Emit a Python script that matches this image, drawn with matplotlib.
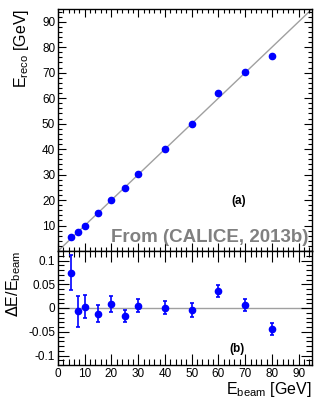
import matplotlib
matplotlib.use("Agg")
import matplotlib.pyplot as plt
from matplotlib.ticker import MultipleLocator, FuncFormatter

plt.rcParams['font.family'] = ['Liberation Sans', 'DejaVu Sans']

e_beam = [5, 7.5, 10, 15, 20, 25, 30, 40, 50, 60, 70, 80]
e_reco = [5.37, 7.45, 10.0, 14.8, 20.2, 24.6, 30.1, 40.0, 49.8, 62.1, 70.4, 76.5]
resid = [0.074, -0.007, 0.003, -0.012, 0.0085, -0.017, 0.005, 0.001, -0.004, 0.036, 0.006, -0.044]
resid_err = [0.037, 0.032, 0.024, 0.018, 0.016, 0.013, 0.013, 0.014, 0.014, 0.012, 0.012, 0.012]

W, H = 332, 399
fig = plt.figure(figsize=(W/100, H/100), dpi=100)

def rect(x0, y0, x1, y1):
    return [x0/W, 1 - y1/H, (x1-x0)/W, (y1-y0)/H]

ax1 = fig.add_axes(rect(58, 9, 312, 251))
ax2 = fig.add_axes(rect(58, 251, 312, 365))

blue = (0, 0, 1)
gray = '#a0a0a0'

ax1.plot([0, 95], [0, 95], color=gray, lw=1.0, zorder=1)
ax1.plot(e_beam, e_reco, 'o', color=blue, ms=4.5, zorder=3)
ax1.set_xlim(0, 95)
ax1.set_ylim(0, 95)

ax2.axhline(0, color=gray, lw=1.0, zorder=1)
ax2.errorbar(e_beam, resid, yerr=resid_err, fmt='o', color=blue, ms=4.5,
             elinewidth=1.2, capsize=1.5, capthick=1.2, zorder=3)
ax2.set_xlim(0, 95)
ax2.set_ylim(-0.12, 0.12)

for ax in (ax1, ax2):
    ax.xaxis.set_major_locator(MultipleLocator(10))
    ax.xaxis.set_minor_locator(MultipleLocator(2))
    ax.tick_params(which='both', direction='in', top=True, right=True,
                   labelsize=8.5, width=0.8, pad=2)
    ax.tick_params(which='major', length=6)
    ax.tick_params(which='minor', length=3)
    for s in ax.spines.values():
        s.set_linewidth(1.0)

ax1.yaxis.set_major_locator(MultipleLocator(10))
ax1.yaxis.set_minor_locator(MultipleLocator(2))
ax1.yaxis.set_major_formatter(FuncFormatter(lambda v, p: '' if abs(v) < 1e-9 else f'{v:.0f}'))
ax1.tick_params(labelbottom=False)
ax2.yaxis.set_major_locator(MultipleLocator(0.05))
ax2.yaxis.set_minor_locator(MultipleLocator(0.01))
ax2.set_yticks([-0.1, -0.05, 0, 0.05, 0.1])
ax2.set_yticklabels(['-0.1', '-0.05', '0', '0.05', '0.1'])
ax2.tick_params(which='major', length=8)
ax2.tick_params(which='minor', length=4)

ax1.set_ylabel(r'E$_{\mathregular{reco}}$ [GeV]', fontsize=11.5, loc='top', labelpad=8)
ax2.set_ylabel(r'$\Delta$E/E$_{\mathregular{beam}}$', fontsize=11.5, loc='top', labelpad=4)
ax2.set_xlabel(r'E$_{\mathregular{beam}}$ [GeV]', fontsize=11.5, loc='right', labelpad=0)

ax1.text(0.985, 0.02, 'From (CALICE, 2013b)', transform=ax1.transAxes,
         ha='right', va='bottom', fontsize=13.5, fontweight='bold', color='#808080')
ax1.text(0.71, 0.205, '(a)', transform=ax1.transAxes, ha='center', va='center',
         fontsize=8.5, fontweight='bold')
ax2.text(0.705, 0.14, '(b)', transform=ax2.transAxes, ha='center', va='center',
         fontsize=8.5, fontweight='bold')

fig.savefig('out.png', dpi=100)
